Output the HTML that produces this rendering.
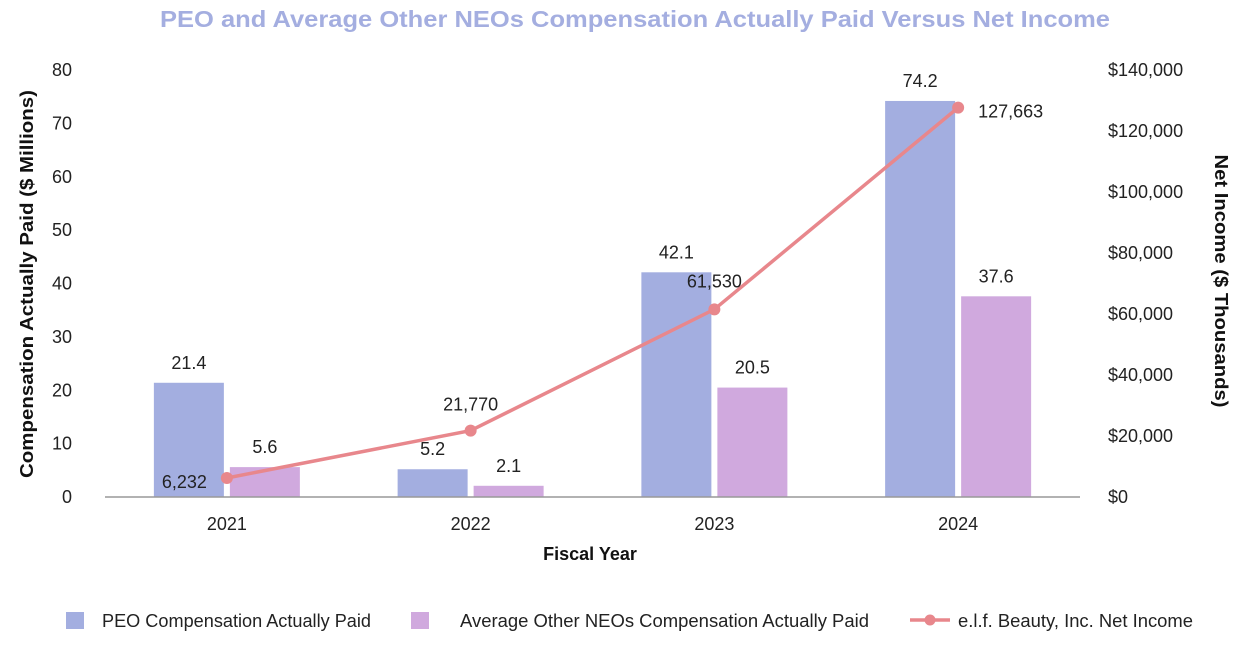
<!DOCTYPE html>
<html><head><meta charset="utf-8"><style>
body{margin:0;background:#fff;width:1248px;height:652px;overflow:hidden;font-family:"Liberation Sans",sans-serif}
</style></head><body>
<svg id="chart" width="1248" height="652" xmlns="http://www.w3.org/2000/svg" font-family="Liberation Sans, sans-serif">
<text x="160" y="27" textLength="950" lengthAdjust="spacingAndGlyphs" font-size="23" font-weight="bold" fill="#a4aee0">PEO and Average Other NEOs Compensation Actually Paid Versus Net Income</text>
<text transform="translate(33,284) rotate(-90)" text-anchor="middle" textLength="388" lengthAdjust="spacingAndGlyphs" font-size="18" font-weight="bold" fill="#111">Compensation Actually Paid ($ Millions)</text>
<text transform="translate(1215,281) rotate(90)" text-anchor="middle" textLength="253" lengthAdjust="spacingAndGlyphs" font-size="18" font-weight="bold" fill="#111">Net Income ($ Thousands)</text>
<text x="590" y="560" text-anchor="middle" font-size="18" font-weight="bold" fill="#111">Fiscal Year</text>
<g id="g"></g>
<g>
<rect x="66" y="612" width="18" height="17" fill="#a3aee0"/>
<text x="102" y="627" textLength="269" lengthAdjust="spacingAndGlyphs" font-size="18" fill="#222">PEO Compensation Actually Paid</text>
<rect x="411" y="612" width="18" height="17" fill="#d0a9de"/>
<text x="460" y="627" textLength="409" lengthAdjust="spacingAndGlyphs" font-size="18" fill="#222">Average Other NEOs Compensation Actually Paid</text>
<line x1="910" y1="620" x2="950" y2="620" stroke="#e8878c" stroke-width="3.5"/>
<circle cx="930" cy="620" r="5.5" fill="#e8878c"/>
<text x="958" y="627" textLength="235" lengthAdjust="spacingAndGlyphs" font-size="18" fill="#222">e.l.f. Beauty, Inc. Net Income</text>
</g>
</svg>
<script>
const categories=["2021","2022","2023","2024"];
const peo=[21.4,5.2,42.1,74.2];
const neo=[5.6,2.1,20.5,37.6];
const netIncome=[6232,21770,61530,127663];
const leftTicks=[0,10,20,30,40,50,60,70,80];
const rightTicks=[0,20000,40000,60000,80000,100000,120000,140000];
const NS="http://www.w3.org/2000/svg";
const g=document.getElementById('g');
const x0=105,x1=1080,yb=497,yt=70;
const yL=v=>yb-(v/80)*(yb-yt);
const yR=v=>yb-(v/140000)*(yb-yt);
const cw=(x1-x0)/categories.length;
const xc=i=>x0+cw*(i+0.5);
function el(t,a,txt){const e=document.createElementNS(NS,t);for(const k in a)e.setAttribute(k,a[k]);if(txt!==undefined)e.textContent=txt;g.appendChild(e);return e;}
leftTicks.forEach(v=>{const e=el('text',{x:72,y:yL(v)+6,'text-anchor':'end','font-size':18,fill:'#222'},v);

});
rightTicks.forEach(v=>{const e=el('text',{x:1108,y:yR(v)+6,'font-size':18,fill:'#222'},'$'+v.toLocaleString('en-US'));

});
categories.forEach((c,i)=>{
const b1=el('rect',{x:xc(i)-73,y:yL(peo[i]),width:70,height:yb-yL(peo[i]),fill:'#a3aee0'});


const b2=el('rect',{x:xc(i)+3,y:yL(neo[i]),width:70,height:yb-yL(neo[i]),fill:'#d0a9de'});


const l1=el('text',{x:xc(i)-38,y:yL(peo[i])-14,'text-anchor':'middle','font-size':18,fill:'#222'},peo[i].toFixed(1));


const l2=el('text',{x:xc(i)+38,y:yL(neo[i])-14,'text-anchor':'middle','font-size':18,fill:'#222'},neo[i].toFixed(1));


const xl=el('text',{x:xc(i),y:530,'text-anchor':'middle','font-size':18,fill:'#222'},c);


});
const ax=el('line',{x1:x0,y1:yb,x2:x1,y2:yb,stroke:'#999','stroke-width':1.5});


const ln=el('polyline',{points:netIncome.map((v,i)=>xc(i)+','+yR(v)).join(' '),fill:'none',stroke:'#e8878c','stroke-width':3.5});


const offs=[[-20,10,'end'],[0,-20,'middle'],[0,-22,'middle'],[20,10,'start']];
netIncome.forEach((v,i)=>{
const p=el('circle',{cx:xc(i),cy:yR(v),r:6,fill:'#e8878c'});


const o=offs[i];
const t=el('text',{x:xc(i)+o[0],y:yR(v)+o[1],'text-anchor':o[2],'font-size':18,fill:'#222'},v.toLocaleString('en-US'));


});
</script>
</body></html>
